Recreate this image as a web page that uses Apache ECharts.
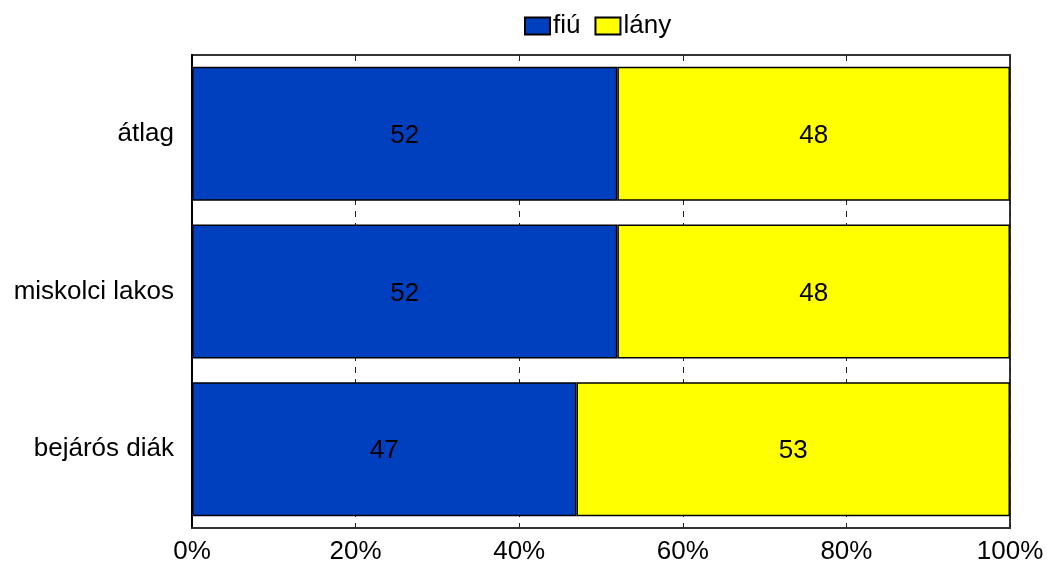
<!DOCTYPE html>
<html><head><meta charset="utf-8">
<script src="https://cdn.jsdelivr.net/npm/echarts@6/dist/echarts.min.js"></script>
<style>html,body{margin:0;padding:0;background:#fff}#c{width:1047px;height:567px}</style>
</head><body><div id="c"></div>
<script>
const categories = ['átlag', 'miskolci lakos', 'bejárós diák'];
const fiu = [52, 52, 47];
const lany = [48, 48, 53];
const tickLabels = ['0%', '20%', '40%', '60%', '80%', '100%'];

const chart = echarts.init(document.getElementById('c'));
const font = 'Liberation Sans, Arial, sans-serif';
chart.setOption({
  animation: false,
  textStyle: { fontFamily: font },
  legend: {
    top: 8, left: 519, icon: 'rect',
    itemWidth: 25, itemHeight: 17, itemGap: 14,
    textStyle: { fontSize: 26, color: '#000', fontFamily: font, padding: [0,0,0,-2] },
    data: ['fiú', 'lány']
  },
  grid: { left: 192, right: 37, top: 55, bottom: 39, show: true, borderColor: '#333', borderWidth: 2, containLabel: false },
  xAxis: {
    type: 'value', min: 0, max: 100, interval: 20,
    axisLine: { show: true, lineStyle: { color: '#333', width: 2 } },
    axisTick: { show: false },
    splitLine: { show: true, lineStyle: { color: '#222', type: [6, 6], width: 1 } },
    axisLabel: { fontSize: 26, color: '#000', margin: 11, fontFamily: font,
      formatter: v => tickLabels[Math.round(v / 20)] }
  },
  yAxis: {
    type: 'category', data: categories, inverse: true,
    axisLine: { show: true, lineStyle: { color: '#000', width: 2 } },
    axisTick: { show: false },
    axisLabel: { fontSize: 26, color: '#000', margin: 18, fontFamily: font }
  },
  series: [
    { name: 'fiú', type: 'bar', stack: 's', data: fiu, barCategoryGap: '15%',
      itemStyle: { color: '#0040BF', borderColor: '#000', borderWidth: 1.5 },
      label: { show: true, position: 'inside', fontSize: 26, color: '#000', fontFamily: font, offset: [0, 2] } },
    { name: 'lány', type: 'bar', stack: 's', data: lany, barCategoryGap: '15%',
      itemStyle: { color: '#FFFF00', borderColor: '#000', borderWidth: 1.5 },
      label: { show: true, position: 'inside', fontSize: 26, color: '#000', fontFamily: font, offset: [0, 2] } }
  ]
});
</script></body></html>
